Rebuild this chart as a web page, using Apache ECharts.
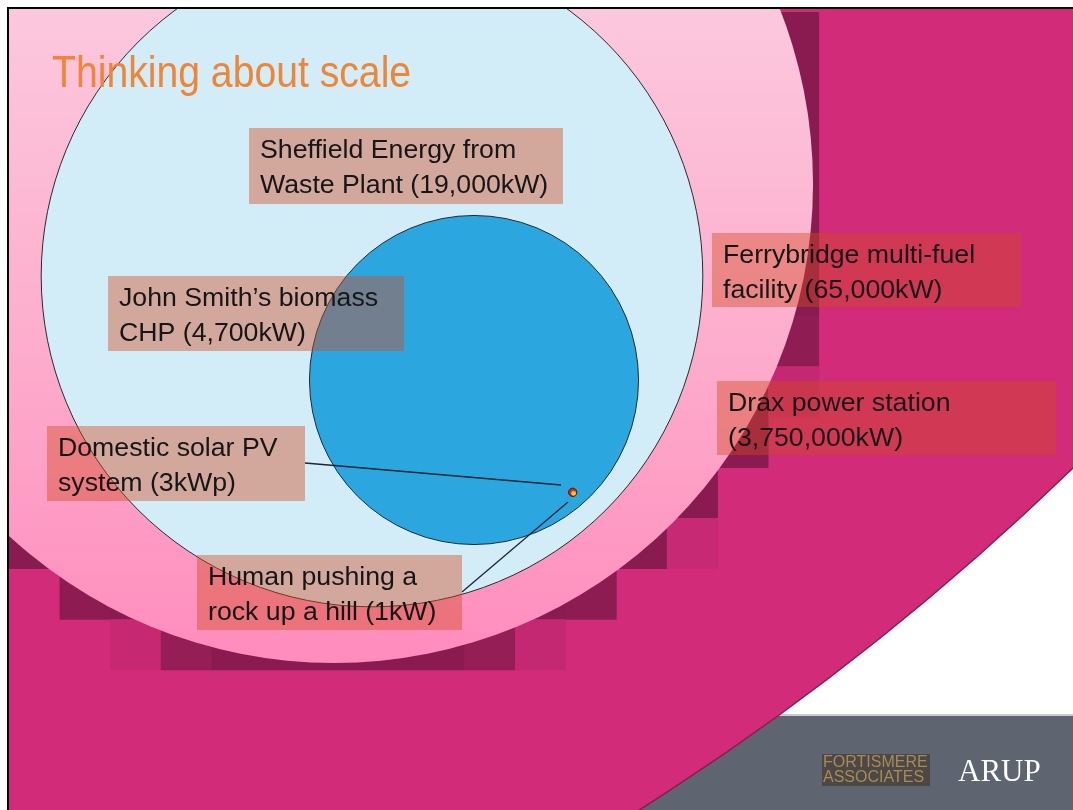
<!DOCTYPE html>
<html><head><meta charset="utf-8">
<script src="https://cdn.jsdelivr.net/npm/echarts@6/dist/echarts.min.js"></script>
<style>html,body{margin:0;padding:0;background:#fff;}#chart{width:1073px;height:810px;}</style>
</head><body><div id="chart"></div>
<script>
// ---------------- data ----------------
const sources = ['Drax power station', 'Ferrybridge multi-fuel facility', 'Sheffield Energy from Waste Plant',
  'John Smith’s biomass CHP', 'Domestic solar PV system', 'Human pushing a rock up a hill'];
const powerKW = [3750000, 65000, 19000, 4700, 3, 1];
const powerUnits = ['kW', 'kW', 'kW', 'kW', 'kWp', 'kW'];
const labelHeads = ['Drax power station\n', 'Ferrybridge multi-fuel\nfacility ', 'Sheffield Energy from\nWaste Plant ',
  'John Smith’s biomass\nCHP ', 'Domestic solar PV\nsystem ', 'Human pushing a\nrock up a hill '];
const titleText = 'Thinking about scale';

// ---------------- layout (slide units = px) ----------------
const AREA_SCALE = 2.4;                    // radius per sqrt(kW) for circles drawn to scale
const radiusOverride = [2700, 479, null, null, null, null]; // the two largest are drawn not to scale
const circleCentres = [[-807, -1470], [334, 184], [372, 276], [474, 380], [572.7, 492.3], [573.6, 493.3]];
const labelBoxes = [[717, 381, 339, 74], [712, 233, 309, 74], [249, 128, 314, 76],
  [108, 276, 296, 75], [47, 426, 258, 75], [197, 555, 265, 75]];
const leaders = [null, null, null, null, [[305, 463], [561, 485]], [[462, 592], [568, 502]]];
const shadowSpec = { cx: 338, cy: 186, r: 479, soft: 10, cell: 50.6, ox: 9, oy: 12, cols: 22, rows: 17 };

const MAGENTA = [209, 43, 121], DARK = [137, 27, 80];
const circleStyles = [
  { fill: 'rgb(209,43,121)', stroke: '#8a1c52', lw: 1.5 },
  { fill: new echarts.graphic.LinearGradient(0, 0, 0, 1, [
      { offset: 0, color: '#fde4ee' }, { offset: 0.32, color: '#fcc8dd' },
      { offset: 0.7, color: '#fdaacb' }, { offset: 1, color: '#ff8cbd' }]), stroke: null, lw: 0 },
  { fill: '#d3edf8', stroke: '#2b2b2b', lw: 1 },
  { fill: '#2ba6df', stroke: '#1e2a3a', lw: 1 },
  { fill: '#d8281c', stroke: '#4a1510', lw: 1 },
  { fill: '#f5d21f', stroke: null, lw: 0 }
];

function fmt(v) { return v.toLocaleString('en-US'); }
function labelText(i) { return labelHeads[i] + '(' + fmt(powerKW[i]) + powerUnits[i] + ')'; }

function shadowRects(api) {
  const s = shadowSpec, out = [];
  for (let cx = 0; cx < s.cols; cx++) {
    for (let cy = 0; cy < s.rows; cy++) {
      const x0 = s.ox + cx * s.cell, y0 = s.oy + cy * s.cell;
      let acc = 0, n = 0;
      for (let a = 0; a < 8; a++) for (let b = 0; b < 8; b++) {
        const px = x0 + (a + 0.5) * s.cell / 8, py = y0 + (b + 0.5) * s.cell / 8;
        const d = Math.hypot(px - s.cx, py - s.cy);
        acc += Math.max(0, Math.min(1, (s.r + s.soft - d) / (2 * s.soft))); n++;
      }
      const cov = acc / n;
      if (cov <= 0.05) continue;
      const lv = Math.min(1, cov * 2);
      const col = MAGENTA.map((m, k) => Math.round(m + (DARK[k] - m) * lv));
      const p0 = api.coord([x0, y0]), p1 = api.coord([x0 + s.cell, y0 + s.cell]);
      out.push({ type: 'rect', z2: 11, shape: { x: p0[0], y: p0[1], width: p1[0] - p0[0] + 0.5, height: p1[1] - p0[1] + 0.5 },
        style: { fill: 'rgb(' + col.join(',') + ')' } });
    }
  }
  return out;
}

const chart = echarts.init(document.getElementById('chart'), null, { renderer: 'canvas', width: 1073, height: 810 });

const LABEL_FONT = '26.7px "Liberation Sans", Arial, sans-serif';
const option = {
  animation: false,
  backgroundColor: '#ffffff',
  grid: { left: 9, top: 9, width: 1064, height: 801, show: false },
  xAxis: { type: 'value', min: 9, max: 1073, show: false },
  yAxis: { type: 'value', min: 9, max: 810, inverse: true, show: false },
  graphic: [
    { type: 'rect', z: 0, shape: { x: 9, y: 715, width: 1064, height: 95 }, style: { fill: '#5e6571' } },
    { type: 'rect', z: 0, shape: { x: 9, y: 714, width: 1064, height: 2 }, style: { fill: '#c9cdd2' } },
    { type: 'rect', z: 100, shape: { x: 822, y: 754, width: 108, height: 32 }, style: { fill: '#4b4846' } },
    { type: 'text', z: 101, x: 823, y: 755, style: { text: 'FORTISMERE\nASSOCIATES', fill: '#a98a56',
        font: '16px "Liberation Sans", Arial, sans-serif', lineHeight: 15, verticalAlign: 'top' } },
    { type: 'text', z: 101, x: 958, y: 773, style: { text: 'ARUP', fill: '#ffffff',
        font: '31px "Liberation Serif", "Times New Roman", serif', verticalAlign: 'middle' } },
    { type: 'text', z: 101, x: 52, y: 75, scaleX: 0.87, style: { text: titleText, fill: '#ee8537',
        font: '45px "Liberation Sans", Arial, sans-serif', verticalAlign: 'middle' } },
    { type: 'rect', z: 110, shape: { x: 0, y: 0, width: 1073, height: 7 }, style: { fill: '#ffffff' } },
    { type: 'rect', z: 110, shape: { x: 0, y: 0, width: 7, height: 810 }, style: { fill: '#ffffff' } },
    { type: 'rect', z: 111, shape: { x: 7, y: 7, width: 1066, height: 2 }, style: { fill: '#000000' } },
    { type: 'rect', z: 111, shape: { x: 7, y: 7, width: 2, height: 803 }, style: { fill: '#000000' } }
  ],
  series: [
    {
      type: 'custom', name: 'Capacity', coordinateSystem: 'cartesian2d', clip: true, z: 2,
      data: powerKW.map((v, i) => [circleCentres[i][0], circleCentres[i][1], v]),
      encode: { x: 0, y: 1 },
      renderItem: function (params, api) {
        const i = params.dataIndex;
        const c = api.coord([api.value(0), api.value(1)]);
        const rData = radiusOverride[i] != null ? radiusOverride[i] : AREA_SCALE * Math.sqrt(api.value(2));
        const r = api.size([rData, 0])[0];
        const st = circleStyles[i];
        const children = [];
        if (i === 1) children.push.apply(children, shadowRects(api));
        children.push({ type: 'circle', z2: i * 10 + 5, shape: { cx: c[0], cy: c[1], r: r },
          style: { fill: st.fill, stroke: st.stroke, lineWidth: st.lw } });
        return { type: 'group', children: children };
      }
    },
    {
      type: 'custom', name: 'Leaders', coordinateSystem: 'cartesian2d', clip: true, z: 3,
      data: sources.map((s, i) => [i]),
      renderItem: function (params, api) {
        const L = leaders[params.dataIndex];
        if (!L) return null;
        const a = api.coord(L[0]), b = api.coord(L[1]);
        return { type: 'line', shape: { x1: a[0], y1: a[1], x2: b[0], y2: b[1] },
          style: { stroke: '#1b2533', lineWidth: 1.3 } };
      }
    },
    {
      type: 'custom', name: 'Labels', coordinateSystem: 'cartesian2d', clip: true, z: 4,
      data: sources.map((s, i) => [i]),
      renderItem: function (params, api) {
        const i = params.dataIndex, b = labelBoxes[i];
        const p0 = api.coord([b[0], b[1]]), p1 = api.coord([b[0] + b[2], b[1] + b[3]]);
        return { type: 'group', children: [
          { type: 'rect', shape: { x: p0[0], y: p0[1], width: p1[0] - p0[0], height: p1[1] - p0[1] },
            style: { fill: 'rgba(210,75,30,0.42)' } },
          { type: 'text', x: p0[0] + 11, y: p0[1] + 5, style: { text: labelText(i), fill: '#161616',
            font: LABEL_FONT, lineHeight: 35, verticalAlign: 'top', align: 'left' } }
        ] };
      }
    }
  ]
};
chart.setOption(option);
</script>
</body></html>
